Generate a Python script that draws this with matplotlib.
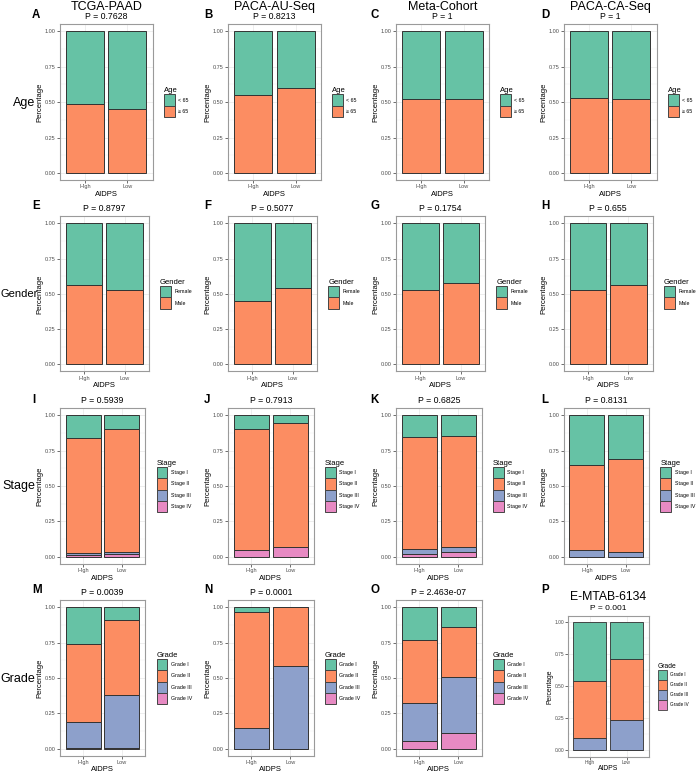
import matplotlib
matplotlib.use("Agg")
import matplotlib.pyplot as plt
from matplotlib.patches import Patch

plt.rcParams['font.family'] = ['Liberation Sans', 'DejaVu Sans']

# ---------------- data ----------------
groups = ["High", "Low"]
cohorts = ["TCGA-PAAD", "PACA-AU-Seq", "Meta-Cohort", "PACA-CA-Seq"]
grade_cohorts = ["TCGA-PAAD", "PACA-AU-Seq", "Meta-Cohort", "E-MTAB-6134"]
panel_letters = [["A", "B", "C", "D"], ["E", "F", "G", "H"],
                 ["I", "J", "K", "L"], ["M", "N", "O", "P"]]
row_names = ["Age", "Gender", "Stage", "Grade"]

age_levels = ["< 65", "\u2265 65"]
age_p = ["0.7628", "0.8213", "1", "1"]
# [cohort][level][High, Low]
age_props = [
    [[0.51, 0.55], [0.49, 0.45]],
    [[0.45, 0.40], [0.55, 0.60]],
    [[0.48, 0.48], [0.52, 0.52]],
    [[0.47, 0.48], [0.53, 0.52]],
]

gender_levels = ["Female", "Male"]
gender_p = ["0.8797", "0.5077", "0.1754", "0.655"]
gender_props = [
    [[0.44, 0.47], [0.56, 0.53]],
    [[0.55, 0.46], [0.45, 0.54]],
    [[0.47, 0.42], [0.53, 0.58]],
    [[0.47, 0.435], [0.53, 0.565]],
]

stage_levels = ["Stage I", "Stage II", "Stage III", "Stage IV"]
stage_p = ["0.5939", "0.7913", "0.6825", "0.8131"]
stage_props = [
    [[0.16, 0.10], [0.81, 0.862], [0.015, 0.018], [0.015, 0.02]],
    [[0.10, 0.054], [0.85, 0.878], [0.0, 0.0], [0.05, 0.068]],
    [[0.153, 0.144], [0.788, 0.786], [0.039, 0.032], [0.02, 0.038]],
    [[0.353, 0.313], [0.597, 0.649], [0.05, 0.038], [0.0, 0.0]],
]

grade_levels = ["Grade I", "Grade II", "Grade III", "Grade IV"]
grade_p = ["0.0039", "0.0001", "2.463e-07", "0.001"]
grade_props = [
    [[0.26, 0.09], [0.55, 0.533], [0.183, 0.37], [0.007, 0.007]],
    [[0.03, 0.0], [0.82, 0.413], [0.15, 0.587], [0.0, 0.0]],
    [[0.23, 0.142], [0.45, 0.348], [0.263, 0.402], [0.057, 0.108]],
    [[0.46, 0.29], [0.444, 0.474], [0.096, 0.236], [0.0, 0.0]],
]

palette = ["#66C2A5", "#FC8D62", "#8DA0CB", "#E78AC3"]

# ---------------- layout ----------------
W, H = 698, 772
fig = plt.figure(figsize=(W / 100, H / 100), dpi=100)
fig.patch.set_facecolor("white")

col_left = [59.7, 228.0, 396.0, 563.6]
row_w = [93.0, 89.2, 85.6, 85.6]
row_tb = [(24.2, 180.0), (216.3, 371.4), (408.0, 564.0), (600.3, 755.8)]
p_panel = (568.0, 80.5, 616.0, 756.6)  # left, width, top, bottom
letter_x = [32, 204, 370, 541]
letter_base = [18.3, 209.3, 402.7, 593.3]
pval_base = [19.3, 211.0, 402.7, 595.0]

EDGE = "#333333"


def make_axes(left, width, top, bottom):
    return fig.add_axes([left / W, 1 - bottom / H, width / W, (bottom - top) / H])


def draw_panel(ax, levels, props, legend_title, legend_gap_px, s=1.0, xpad=1.0):
    nlev = len(levels)
    x = list(range(1, len(groups) + 1))
    bottom = [0.0] * len(groups)
    for li in reversed(range(nlev)):
        vals = props[li]
        ax.bar(x, vals, bottom=bottom, width=0.9, color=palette[li],
               edgecolor=EDGE, linewidth=0.7 * s, zorder=3)
        bottom = [b + v for b, v in zip(bottom, vals)]
    ax.set_xlim(0.4, 2.6)
    ax.set_ylim(-0.05, 1.05)
    ax.set_xticks(x)
    ax.set_xticklabels(groups)
    ax.set_yticks([0, 0.25, 0.5, 0.75, 1.0])
    ax.set_yticklabels(["0.00", "0.25", "0.50", "0.75", "1.00"])
    ax.set_yticks([0.125, 0.375, 0.625, 0.875], minor=True)
    ax.tick_params(axis="both", which="major", labelsize=4 * s, length=2.2 * s,
                   width=0.5, color="#333333", labelcolor="#4D4D4D", pad=0.8 * s)
    ax.tick_params(axis="y", which="minor", length=0)
    ax.grid(True, which="major", color="#EBEBEB", linewidth=0.6, zorder=0)
    ax.grid(True, which="minor", axis="y", color="#F2F2F2", linewidth=0.35, zorder=0)
    ax.set_axisbelow(True)
    for sp in ax.spines.values():
        sp.set_color("#9A9A9A")
        sp.set_linewidth(0.8)
    ax.set_xlabel("AIDPS", fontsize=5.5 * s, labelpad=xpad)
    ax.set_ylabel("Percentage", fontsize=5.5 * s, labelpad=0.8 * s)
    handles = [Patch(facecolor=palette[i], edgecolor="#444444", linewidth=0.7 * s,
                     label=levels[i]) for i in range(nlev)]
    axw_px = ax.get_position().width * W
    leg = ax.legend(handles=handles, loc="center left",
                    bbox_to_anchor=(1 + legend_gap_px / axw_px, 0.5),
                    borderpad=0, borderaxespad=0, frameon=False,
                    handlelength=2.08, handleheight=2.9, handletextpad=0.6,
                    labelspacing=0, fontsize=3.8 * s, title=legend_title,
                    title_fontsize=5.5 * s, alignment="left")
    return leg


rows = [
    (age_levels, age_props, "Age", age_p),
    (gender_levels, gender_props, "Gender", gender_p),
    (stage_levels, stage_props, "Stage", stage_p),
    (grade_levels, grade_props, "Grade", grade_p),
]

for r, (levels, props, ltitle, pvals) in enumerate(rows):
    top, bot = row_tb[r]
    for c in range(4):
        if r == 3 and c == 3:
            left, width, top_p, bot_p = p_panel
            ax = make_axes(left, width, top_p, bot_p)
            draw_panel(ax, levels, props[c], ltitle, 9.0, s=0.88, xpad=0.1)
            cx = left + width / 2
            fig.text(cx / W, 1 - 599.5 / H, grade_cohorts[3], ha="center",
                     va="baseline", fontsize=8.8)
            fig.text(cx / W, 1 - 610.0 / H, "P = " + pvals[c], ha="center",
                     va="baseline", fontsize=6.0)
        else:
            w = row_w[r]
            ax = make_axes(col_left[c], w, top, bot)
            draw_panel(ax, levels, props[c], ltitle, 11.2)
            cx = col_left[c] + w / 2
            if r == 0:
                fig.text(cx / W, 1 - 10.0 / H, cohorts[c], ha="center",
                         va="baseline", fontsize=9)
            fig.text(cx / W, 1 - pval_base[r] / H, "P = " + pvals[c],
                     ha="center", va="baseline", fontsize=6.3)
        fig.text(letter_x[c] / W, 1 - letter_base[r] / H, panel_letters[r][c],
                 ha="left", va="baseline", fontsize=8.3, fontweight="bold")
    center = (top + bot) / 2
    if row_names[r] == "Gender":
        fig.text(0.3 / W, 1 - (center + 3.5) / H, row_names[r], ha="left",
                 va="baseline", fontsize=8.0)
    else:
        fig.text(35.5 / W, 1 - (center + 3.5) / H, row_names[r], ha="right",
                 va="baseline", fontsize=9)

fig.savefig("out.png", dpi=100, facecolor="white")
